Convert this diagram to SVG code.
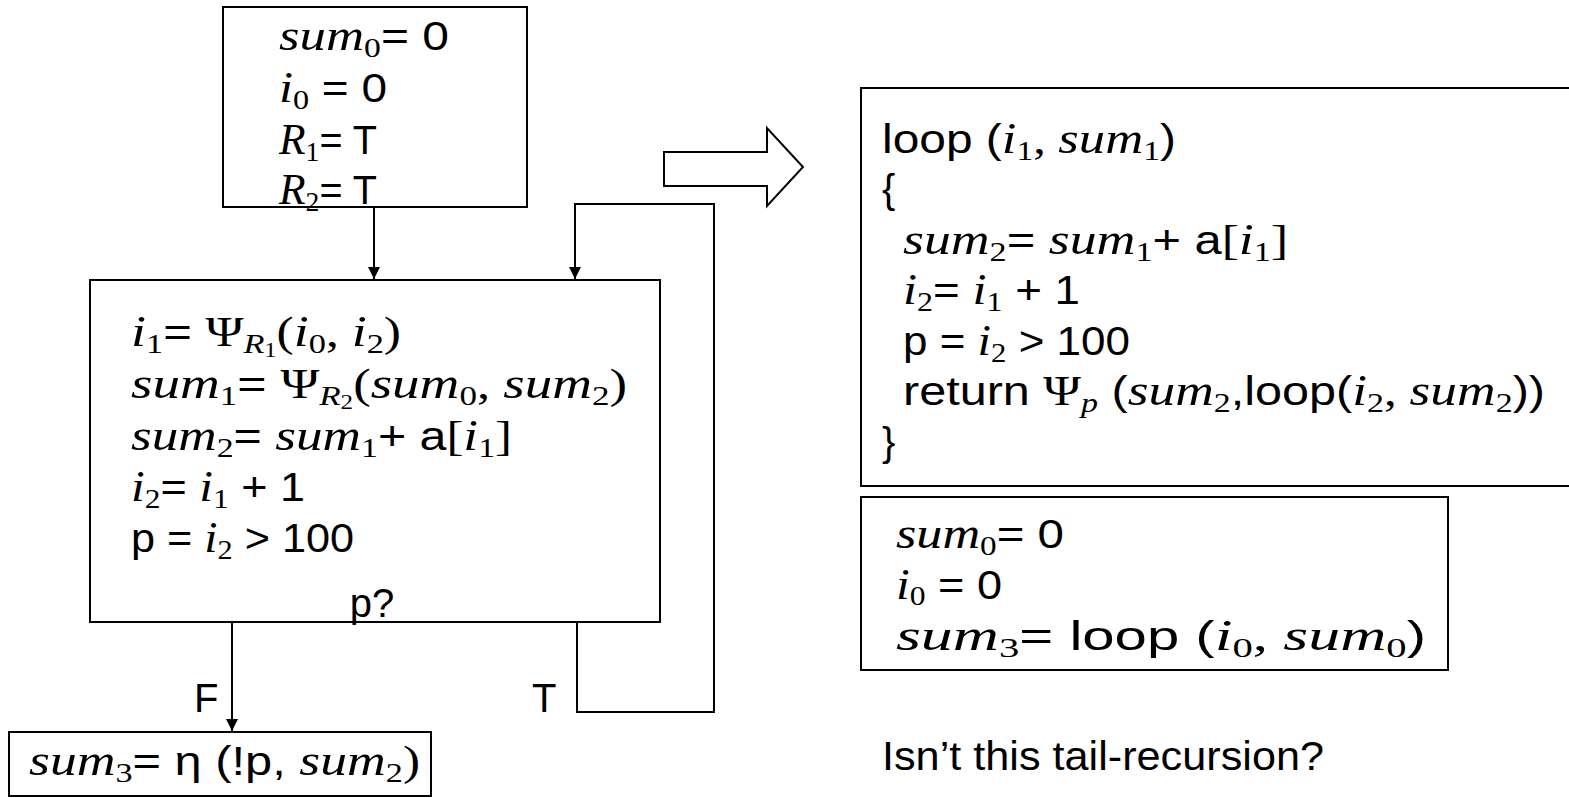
<svg xmlns="http://www.w3.org/2000/svg" width="1569" height="798" viewBox="0 0 1569 798">
<defs>
<style>
.box{fill:#fff;stroke:#000;stroke-width:2}
.t{font-family:"Liberation Sans",Arial,sans-serif;font-size:40px;fill:#000}
.m{font-family:"Liberation Serif","Times New Roman",serif;font-style:italic;font-size:44px}
.u{font-family:"Liberation Serif","Times New Roman",serif;font-style:normal;font-size:42px}
.s{font-family:"Liberation Serif","Times New Roman",serif;font-style:normal;font-size:28px}
.si{font-family:"Liberation Serif","Times New Roman",serif;font-style:italic;font-size:28px}
.ss{font-family:"Liberation Serif","Times New Roman",serif;font-style:normal;font-size:20px}
.c{fill:none;stroke:#000;stroke-width:2}
</style>
<marker id="ah" viewBox="0 0 10 10" refX="10" refY="5" markerWidth="6" markerHeight="6" markerUnits="strokeWidth" orient="auto">
<path d="M0,0 L10,5 L0,10 z" fill="#000"/>
</marker>
</defs>
<rect width="1569" height="798" fill="#fff"/>

<g id="init-box">
<rect class="box" x="223" y="7" width="304" height="200"/>
<text class="t" x="279" y="50" textLength="170" lengthAdjust="spacingAndGlyphs"><tspan class="m">sum</tspan><tspan class="s" dy="7">0</tspan><tspan dy="-7">= 0</tspan></text>
<text class="t" x="279" y="102" textLength="108" lengthAdjust="spacingAndGlyphs"><tspan class="m">i</tspan><tspan class="s" dy="7">0</tspan><tspan dy="-7"> = 0</tspan></text>
<text class="t" x="279" y="154" textLength="98" lengthAdjust="spacingAndGlyphs"><tspan class="m">R</tspan><tspan class="s" dy="7">1</tspan><tspan dy="-7">= T</tspan></text>
<text class="t" x="279" y="204" textLength="98" lengthAdjust="spacingAndGlyphs"><tspan class="m">R</tspan><tspan class="s" dy="7">2</tspan><tspan dy="-7">= T</tspan></text>
</g>

<g id="loop-box">
<rect class="box" x="90" y="280" width="570" height="342"/>
<text class="t" x="131" y="346" textLength="270" lengthAdjust="spacingAndGlyphs"><tspan class="m">i</tspan><tspan class="s" dy="7">1</tspan><tspan dy="-7">= </tspan><tspan class="u">Ψ</tspan><tspan class="si" dy="7">R</tspan><tspan class="ss" dy="4">1</tspan><tspan class="u" dy="-11">(</tspan><tspan class="m">i</tspan><tspan class="s" dy="7">0</tspan><tspan class="u" dy="-7">, </tspan><tspan class="m">i</tspan><tspan class="s" dy="7">2</tspan><tspan class="u" dy="-7">)</tspan></text>
<text class="t" x="131" y="398" textLength="496" lengthAdjust="spacingAndGlyphs"><tspan class="m">sum</tspan><tspan class="s" dy="7">1</tspan><tspan dy="-7">= </tspan><tspan class="u">Ψ</tspan><tspan class="si" dy="7">R</tspan><tspan class="ss" dy="4">2</tspan><tspan class="u" dy="-11">(</tspan><tspan class="m">sum</tspan><tspan class="s" dy="7">0</tspan><tspan class="u" dy="-7">, </tspan><tspan class="m">sum</tspan><tspan class="s" dy="7">2</tspan><tspan class="u" dy="-7">)</tspan></text>
<text class="t" x="131" y="450" textLength="381" lengthAdjust="spacingAndGlyphs"><tspan class="m">sum</tspan><tspan class="s" dy="7">2</tspan><tspan dy="-7">= </tspan><tspan class="m">sum</tspan><tspan class="s" dy="7">1</tspan><tspan dy="-7">+ a</tspan><tspan class="u">[</tspan><tspan class="m">i</tspan><tspan class="s" dy="7">1</tspan><tspan class="u" dy="-7">]</tspan></text>
<text class="t" x="131" y="501" textLength="174" lengthAdjust="spacingAndGlyphs"><tspan class="m">i</tspan><tspan class="s" dy="7">2</tspan><tspan dy="-7">= </tspan><tspan class="m">i</tspan><tspan class="s" dy="7">1</tspan><tspan dy="-7"> + 1</tspan></text>
<text class="t" x="131" y="552" textLength="223" lengthAdjust="spacingAndGlyphs">p = <tspan class="m">i</tspan><tspan class="s" dy="7">2</tspan><tspan dy="-7"> &gt; 100</tspan></text>
<text class="t" x="372" y="617" text-anchor="middle">p?</text>
</g>

<g id="exit-box">
<rect class="box" x="9" y="732" width="422" height="64"/>
<text class="t" x="29" y="775" textLength="391" lengthAdjust="spacingAndGlyphs"><tspan class="m">sum</tspan><tspan class="s" dy="7">3</tspan><tspan dy="-7">= η (!p, </tspan><tspan class="m">sum</tspan><tspan class="s" dy="7">2</tspan><tspan class="u" dy="-7">)</tspan></text>
</g>

<g id="connectors">
<line class="c" x1="374" y1="207" x2="374" y2="279" marker-end="url(#ah)"/>
<polyline class="c" points="577,622 577,712 714,712 714,204 575,204 575,279" marker-end="url(#ah)"/>
<line class="c" x1="232" y1="622" x2="232" y2="731" marker-end="url(#ah)"/>
<text class="t" x="194" y="712">F</text>
<text class="t" x="532" y="712">T</text>
</g>

<g id="transform-arrow">
<polygon points="664,152 767,152 767,128 803,167 767,206 767,186 664,186" fill="#fff" stroke="#000" stroke-width="2"/>
</g>

<g id="loop-function">
<rect class="box" x="861" y="88" width="720" height="398"/>
<text class="t" x="882" y="153" textLength="294" lengthAdjust="spacingAndGlyphs">loop (<tspan class="m">i</tspan><tspan class="s" dy="7">1</tspan><tspan class="u" dy="-7">, </tspan><tspan class="m">sum</tspan><tspan class="s" dy="7">1</tspan><tspan dy="-7">)</tspan></text>
<text class="t" x="882" y="203">{</text>
<text class="t" x="903" y="254" textLength="385" lengthAdjust="spacingAndGlyphs"><tspan class="m">sum</tspan><tspan class="s" dy="7">2</tspan><tspan dy="-7">= </tspan><tspan class="m">sum</tspan><tspan class="s" dy="7">1</tspan><tspan dy="-7">+ a</tspan><tspan class="u">[</tspan><tspan class="m">i</tspan><tspan class="s" dy="7">1</tspan><tspan class="u" dy="-7">]</tspan></text>
<text class="t" x="903" y="304" textLength="177" lengthAdjust="spacingAndGlyphs"><tspan class="m">i</tspan><tspan class="s" dy="7">2</tspan><tspan dy="-7">= </tspan><tspan class="m">i</tspan><tspan class="s" dy="7">1</tspan><tspan dy="-7"> + 1</tspan></text>
<text class="t" x="903" y="355" textLength="227" lengthAdjust="spacingAndGlyphs">p = <tspan class="m">i</tspan><tspan class="s" dy="7">2</tspan><tspan dy="-7"> &gt; 100</tspan></text>
<text class="t" x="903" y="405" textLength="642" lengthAdjust="spacingAndGlyphs">return <tspan class="u">Ψ</tspan><tspan class="si" dy="7">p</tspan><tspan dy="-7"> (</tspan><tspan class="m">sum</tspan><tspan class="s" dy="7">2</tspan><tspan dy="-7">,loop(</tspan><tspan class="m">i</tspan><tspan class="s" dy="7">2</tspan><tspan class="u" dy="-7">, </tspan><tspan class="m">sum</tspan><tspan class="s" dy="7">2</tspan><tspan dy="-7">))</tspan></text>
<text class="t" x="882" y="456">}</text>
</g>

<g id="entry-code">
<rect class="box" x="861" y="497" width="587" height="173"/>
<text class="t" x="896" y="548" textLength="168" lengthAdjust="spacingAndGlyphs"><tspan class="m">sum</tspan><tspan class="s" dy="7">0</tspan><tspan dy="-7">= 0</tspan></text>
<text class="t" x="896" y="599" textLength="106" lengthAdjust="spacingAndGlyphs"><tspan class="m">i</tspan><tspan class="s" dy="6">0</tspan><tspan dy="-6"> = 0</tspan></text>
<text class="t" x="896" y="650" textLength="530" lengthAdjust="spacingAndGlyphs"><tspan class="m">sum</tspan><tspan class="s" dy="7">3</tspan><tspan dy="-7">= loop (</tspan><tspan class="m">i</tspan><tspan class="s" dy="7">0</tspan><tspan class="u" dy="-7">, </tspan><tspan class="m">sum</tspan><tspan class="s" dy="7">0</tspan><tspan dy="-7">)</tspan></text>
</g>

<g id="question">
<text class="t" x="882" y="770" textLength="442" lengthAdjust="spacingAndGlyphs">Isn’t this tail-recursion?</text>
</g>
</svg>
